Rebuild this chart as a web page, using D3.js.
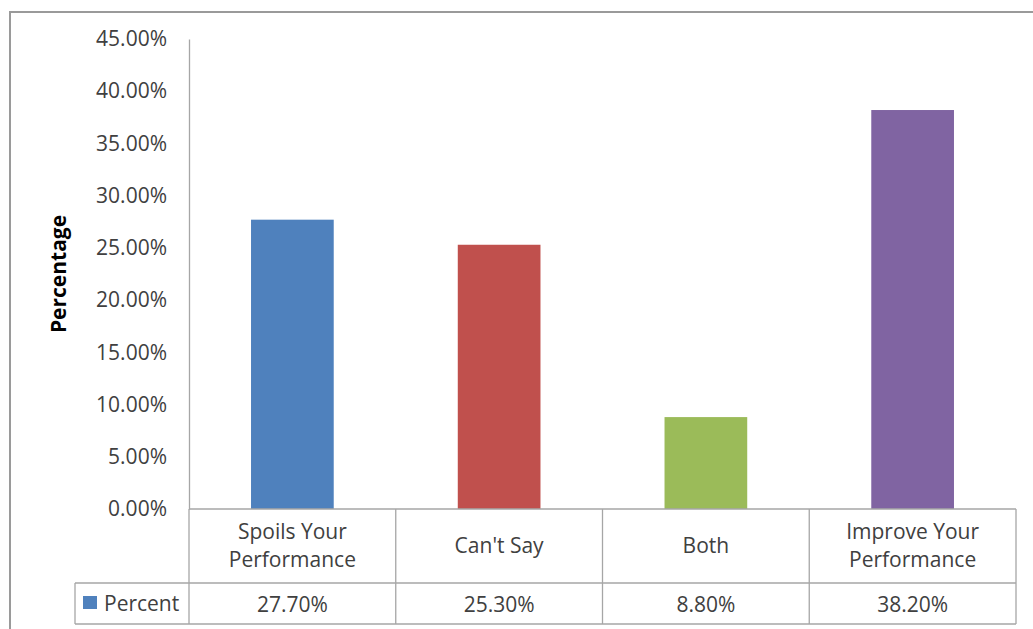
<!DOCTYPE html>
<html>
<head>
<meta charset="utf-8">
<script src="https://cdn.jsdelivr.net/npm/d3@7"></script>
<style>
  html, body { margin: 0; padding: 0; background: #fff; }
  svg { display: block; font-family: "Open Sans", Lato, sans-serif; }
</style>
</head>
<body>
<svg id="chart" width="1033" height="629"></svg>
<script>
// Survey responses: effect on performance
const categories = [["Spoils Your", "Performance"], ["Can't Say"], ["Both"], ["Improve Your", "Performance"]];
const values = [27.7, 25.3, 8.8, 38.2];
const valueLabels = ["27.70%", "25.30%", "8.80%", "38.20%"];
const colors = ["#4F81BD", "#C0504D", "#9BBB59", "#8064A2"];
const yTicks = [0, 5, 10, 15, 20, 25, 30, 35, 40, 45];
const seriesName = "Percent";
const yTitle = "Percentage";

(function draw() {
  const svg = d3.select("#chart");
  const textColor = "#404040";
  const lineColor = "#A6A6A6";
  const fs = 21;

  // outer frame (runs off the right and bottom edges)
  svg.append("rect")
    .attr("x", 10).attr("y", 12).attr("width", 1040).attr("height", 640)
    .attr("fill", "none").attr("stroke", "#9A9A9A").attr("stroke-width", 2);

  const plotLeft = 189, plotRight = 1016, plotTop = 39, plotBottom = 509;
  const headerBottom = 583, rowBottom = 624, legendLeft = 75;

  const x = d3.scaleBand().domain(d3.range(categories.length)).range([plotLeft, plotRight]).paddingInner(0).paddingOuter(0);
  const y = d3.scaleLinear().domain([0, 45]).range([plotBottom, plotTop]);

  // y axis
  const yAxis = d3.axisLeft(y).tickValues(yTicks).tickSize(0).tickPadding(22)
    .tickFormat(d => d.toFixed(2) + "%");
  const gy = svg.append("g").attr("transform", `translate(${plotLeft},0)`).call(yAxis);
  gy.attr("font-family", null);
  gy.select(".domain").attr("stroke", lineColor).attr("stroke-width", 1.3);
  gy.selectAll("text").attr("fill", textColor).attr("font-size", fs);

  // y title
  svg.append("text")
    .attr("transform", `translate(66,${(plotTop + plotBottom) / 2}) rotate(-90)`)
    .attr("text-anchor", "middle")
    .attr("font-size", fs).attr("font-weight", "bold").attr("fill", "#000")
    .text(yTitle);

  // bars
  const barW = x.bandwidth() * 0.4;
  svg.append("g").selectAll("rect").data(values).join("rect")
    .attr("x", (d, i) => x(i) + (x.bandwidth() - barW) / 2)
    .attr("y", d => y(d))
    .attr("width", barW)
    .attr("height", d => y(0) - y(d))
    .attr("fill", (d, i) => colors[i]);

  // data table grid
  const grid = svg.append("g").attr("stroke", lineColor).attr("stroke-width", 1.3).attr("fill", "none");
  grid.append("line").attr("x1", plotLeft).attr("x2", plotRight).attr("y1", plotBottom).attr("y2", plotBottom);
  grid.append("line").attr("x1", legendLeft).attr("x2", plotRight).attr("y1", headerBottom).attr("y2", headerBottom);
  grid.append("line").attr("x1", legendLeft).attr("x2", plotRight).attr("y1", rowBottom).attr("y2", rowBottom);
  grid.append("line").attr("x1", legendLeft).attr("x2", legendLeft).attr("y1", headerBottom).attr("y2", rowBottom);
  [...d3.range(categories.length).map(i => x(i)), plotRight].forEach(xx => {
    grid.append("line").attr("x1", xx).attr("x2", xx).attr("y1", plotBottom).attr("y2", rowBottom);
  });

  // category labels
  const catG = svg.append("g").attr("fill", textColor).attr("font-size", fs).attr("text-anchor", "middle");
  categories.forEach((lines, i) => {
    const cx = x(i) + x.bandwidth() / 2;
    const mid = (plotBottom + headerBottom) / 2;
    const lh = 28;
    const y0 = mid - (lines.length - 1) * lh / 2;
    lines.forEach((t, j) => {
      catG.append("text").attr("x", cx).attr("y", y0 + j * lh).attr("dy", "0.35em").text(t);
    });
  });

  // values row
  const valG = svg.append("g").attr("fill", textColor).attr("font-size", fs).attr("text-anchor", "middle");
  valueLabels.forEach((t, i) => {
    valG.append("text").attr("x", x(i) + x.bandwidth() / 2).attr("y", (headerBottom + rowBottom) / 2 + 1)
      .attr("dy", "0.35em").text(t);
  });

  // legend key
  svg.append("rect").attr("x", 83).attr("y", 596).attr("width", 14).attr("height", 13).attr("fill", colors[0]);
  svg.append("text").attr("x", 104).attr("y", (headerBottom + rowBottom) / 2).attr("dy", "0.35em")
    .attr("font-size", fs).attr("fill", textColor).text(seriesName);
})();
</script>
</body>
</html>
